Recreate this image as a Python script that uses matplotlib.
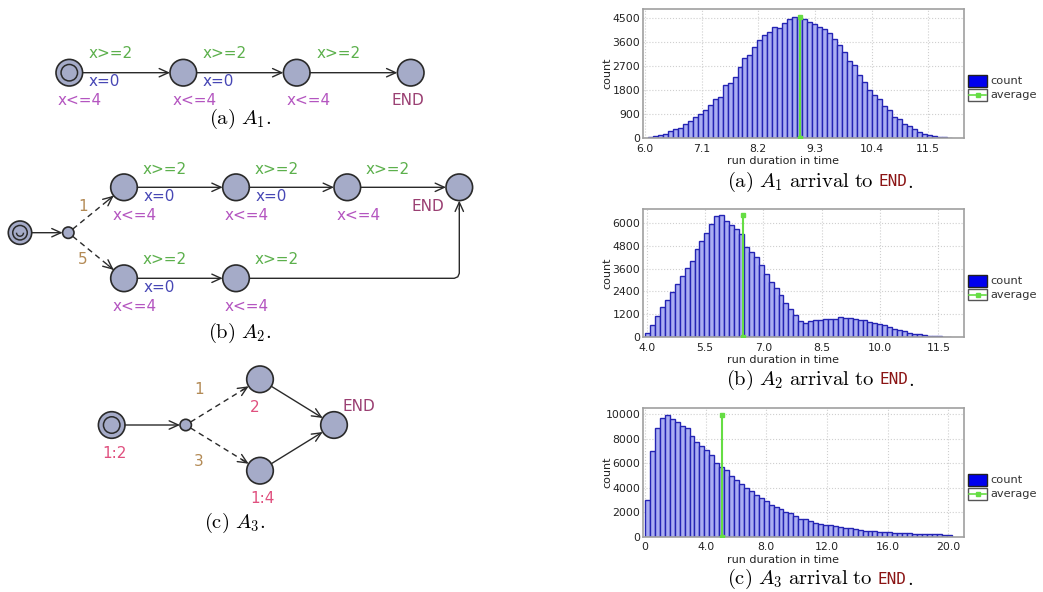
import numpy as np
import matplotlib.pyplot as plt
from matplotlib.patches import Circle, Rectangle, Arc

plt.rcParams['mathtext.fontset'] = 'cm'

# ---- histogram data (counts per bin) ----
a1_start, a1_width = 6.05, 0.097
a1_counts = [30, 60, 100, 160, 260, 340, 380, 540, 640, 790,
             890, 1070, 1240, 1470, 1550, 1990, 2050, 2300, 2680, 3020,
             3120, 3410, 3680, 3880, 4000, 4190, 4150, 4340, 4460, 4560,
             4500, 4460, 4370, 4270, 4160, 4090, 3930, 3710, 3500, 3240,
             2890, 2740, 2360, 2110, 1800, 1610, 1450, 1190, 1040, 790,
             730, 540, 440, 350, 230, 160, 100, 60, 40, 25, 10]
a1_avg = 9.0
a1_xticks = [6.0, 7.1, 8.2, 9.3, 10.4, 11.5]
a1_yticks = [0, 900, 1800, 2700, 3600, 4500]

a2_start, a2_width = 3.96, 0.127
a2_counts = [230, 670, 1120, 1600, 1930, 2370, 2810, 3230, 3610, 4020,
             4610, 5050, 5470, 5930, 6350, 6400, 6100, 5880, 5650, 5400,
             4740, 4470, 4210, 3800, 3300, 2900, 2560, 2190, 1800, 1460,
             1150, 840, 750, 840, 880, 910, 950, 980, 960, 1050,
             1020, 1000, 960, 930, 880, 810, 770, 700, 650, 530,
             440, 390, 320, 250, 190, 160, 120, 90, 70, 50, 20, 10]
a2_avg = 6.47
a2_xticks = [4.0, 5.5, 7.0, 8.5, 10.0, 11.5]
a2_yticks = [0, 1200, 2400, 3600, 4800, 6000]

a3_start, a3_width = 0.0, 0.326
a3_counts = [3020, 7000, 8870, 9670, 9940, 9600, 9340, 9020, 8870, 8200,
             7760, 7420, 7060, 6690, 6040, 5660, 5460, 4930, 4670, 4310,
             3980, 3740, 3410, 3130, 2880, 2580, 2420, 2230, 2030, 1920,
             1700, 1460, 1430, 1320, 1100, 1020, 960, 930, 880, 820,
             710, 690, 600, 550, 490, 470, 440, 410, 380, 360,
             330, 320, 300, 280, 260, 240, 220, 200, 190, 180, 160, 150]
a3_avg = 5.05
a3_xticks = [0, 4.0, 8.0, 12.0, 16.0, 20.0]
a3_xlabels = ['0', '4.0', '8.0', '12.0', '16.0', '20.0']
a3_yticks = [0, 2000, 4000, 6000, 8000, 10000]

BAR_FACE = '#aaaef2'
BAR_EDGE = '#2424b4'
AVG = '#66dd44'
NODE = '#a5abc8'
EDGE = '#2a2a2a'
GREEN = '#5cb04c'
BLUE = '#4747b5'
PURPLE = '#b455c0'
ENDC = '#9a3f72'
BROWN = '#b38a55'
PINK = '#e0507f'

W, H = 1043, 592
fig = plt.figure(figsize=(W / 100, H / 100), dpi=100)
ov = fig.add_axes([0, 0, 1, 1])
ov.set_xlim(0, W)
ov.set_ylim(H, 0)
ov.axis('off')


def px_axes(left, top, right, bottom):
    return fig.add_axes([left / W, 1 - bottom / H, (right - left) / W, (bottom - top) / H])


def histogram(box, start, width, counts, avg, xlim, xticks, xlabels, ylim, yticks):
    ax = px_axes(*box)
    edges = start + width * np.arange(len(counts))
    ax.bar(edges, counts, width=width, align='edge', color=BAR_FACE,
           edgecolor=BAR_EDGE, linewidth=1.0, zorder=2)
    ax.plot([avg, avg], [0, max(counts)], color=AVG, lw=1.5, marker='s', ms=2.5, zorder=3)
    ax.set_xlim(*xlim)
    ax.set_ylim(*ylim)
    ax.set_xticks(xticks)
    ax.set_xticklabels(xlabels)
    ax.set_yticks(yticks)
    ax.tick_params(length=0, labelsize=7.8, labelcolor='#222222', pad=2)
    ax.tick_params(axis='x', pad=4)
    ax.grid(True, color='#cfcfcf', linestyle=':', linewidth=0.8, zorder=0)
    ax.set_axisbelow(True)
    for s in ax.spines.values():
        s.set_color('#a0a0a0')
        s.set_linewidth(1.2)
    h = box[3] - box[1]
    ax.set_xlabel('run duration in time', fontsize=8, color='#222222', va='center')
    ax.xaxis.set_label_coords(0.435, -23 / h)
    ax.set_ylabel('count', fontsize=8, color='#222222', va='center')
    ax.yaxis.set_label_coords(-36 / 321, 0.5)
    # legend
    cy = (box[1] + box[3]) / 2
    x0 = 968
    ov.add_patch(Rectangle((x0, cy + 1.5), 19, 12, facecolor='#0000ee', edgecolor='#222222', lw=1))
    ov.add_patch(Rectangle((x0, cy + 15.5), 19, 11.5, facecolor='white', edgecolor='#555555', lw=1))
    ov.plot([x0 + 1, x0 + 18], [cy + 21.2, cy + 21.2], color=AVG, lw=1.2)
    ov.plot([x0 + 9.5], [cy + 21.2], marker='s', ms=2.5, color=AVG)
    ov.text(x0 + 22.5, cy + 7.5, 'count', fontsize=8.2, va='center', color='#333333')
    ov.text(x0 + 22.5, cy + 21.5, 'average', fontsize=8.2, va='center', color='#333333')
    return ax


histogram((643, 9.3, 964, 138), a1_start, a1_width, a1_counts, a1_avg,
          (5.961, 12.194), a1_xticks, ['%.1f' % t for t in a1_xticks], (0, 4840), a1_yticks)
histogram((643, 209.3, 964, 337.3), a2_start, a2_width, a2_counts, a2_avg,
          (3.905, 12.157), a2_xticks, ['%.1f' % t for t in a2_xticks], (0, 6700), a2_yticks)
histogram((643, 408.3, 964, 536.7), a3_start, a3_width, a3_counts, a3_avg,
          (-0.132, 21.03), a3_xticks, a3_xlabels, (0, 10500), a3_yticks)

# ---- captions ----
renderer = fig.canvas.get_renderer()


def right_caption(cx, y, letter, idx):
    t1 = ov.text(0, y, r'$\mathrm{(%s)}\ A_{%d}\ \mathrm{arrival\ to}$' % (letter, idx),
                 fontsize=14.8, va='center', ha='left')
    t2 = ov.text(0, y, 'END', fontsize=11.5, va='center', ha='left',
                 family='DejaVu Sans Mono', color='#8b1414')
    t3 = ov.text(0, y, r'$\mathrm{.}$', fontsize=14.8, va='center', ha='left')
    w = [t.get_window_extent(renderer).width for t in (t1, t2, t3)]
    gap = 5
    total = w[0] + gap + w[1] + w[2]
    x = cx - total / 2
    t1.set_x(x)
    t2.set_x(x + w[0] + gap)
    t3.set_x(x + w[0] + gap + w[1])


right_caption(820, 181.7, 'a', 1)
right_caption(820, 380, 'b', 2)
right_caption(820, 579, 'c', 3)

ov.text(240, 119.3, r'$\mathrm{(a)}\ A_1\mathrm{.}$', fontsize=14.8, ha='center', va='center')
ov.text(240, 332.7, r'$\mathrm{(b)}\ A_2\mathrm{.}$', fontsize=14.8, ha='center', va='center')
ov.text(235, 523.3, r'$\mathrm{(c)}\ A_3\mathrm{.}$', fontsize=14.8, ha='center', va='center')

# ---- automata ----
R = 13.3
RB = 5.7
ARROW = dict(arrowstyle='->,head_length=0.55,head_width=0.25', color=EDGE, lw=1.0,
             shrinkA=0, shrinkB=0, mutation_scale=12)


def node(p, r=R, initial=False, urgent=False):
    ov.add_patch(Circle(p, r, facecolor=NODE, edgecolor=EDGE, lw=1.2, zorder=3))
    if initial:
        ov.add_patch(Circle(p, r * 0.62, facecolor='none', edgecolor=EDGE, lw=1.1, zorder=4))
    if urgent:
        ov.add_patch(Arc(p, r * 0.6, r * 0.6, theta1=0, theta2=180, edgecolor=EDGE, lw=1.0, zorder=4))


def edge(p, q, rp=R, rq=R, dashed=False):
    p = np.array(p, float)
    q = np.array(q, float)
    u = (q - p) / np.linalg.norm(q - p)
    a = p + u * rp
    b = q - u * rq
    if dashed:
        ov.plot([a[0], b[0]], [a[1], b[1]], color=EDGE, lw=1.0, ls=(0, (4, 3)))
        ov.annotate('', xy=b, xytext=b - u * 8, arrowprops=ARROW)
    else:
        ov.annotate('', xy=b, xytext=a, arrowprops=ARROW)


def label(x, y, s, c):
    ov.text(x, y, s, color=c, fontsize=11, ha='center', va='center')


# (a) A1
a_nodes = [(69.3, 72.7), (183.3, 72.7), (296.7, 72.7), (410.7, 72.7)]
for i, p in enumerate(a_nodes):
    node(p, initial=(i == 0))
for p, q in zip(a_nodes[:-1], a_nodes[1:]):
    edge(p, q)
label(111, 54, 'x>=2', GREEN)
label(225, 54, 'x>=2', GREEN)
label(338.3, 54, 'x>=2', GREEN)
label(104.3, 81.7, 'x=0', BLUE)
label(218.3, 81.7, 'x=0', BLUE)
label(80, 100.7, 'x<=4', PURPLE)
label(194.3, 100.7, 'x<=4', PURPLE)
label(308.3, 100.7, 'x<=4', PURPLE)
label(408.3, 100.7, 'END', ENDC)

# (b) A2
b_init = (20, 232.7)
b_branch = (68.3, 232.7)
b_top = [(124, 187.3), (236, 187.3), (347.3, 187.3), (459.3, 187.3)]
b_low = [(124, 278.3), (236, 278.3)]
node(b_init, r=11.7, initial=True, urgent=True)
node(b_branch, r=RB)
edge(b_init, b_branch, rp=11.7, rq=RB)
edge(b_branch, b_top[0], rp=RB, dashed=True)
edge(b_branch, b_low[0], rp=RB, dashed=True)
for p in b_top + b_low:
    node(p)
for p, q in zip(b_top[:-1], b_top[1:]):
    edge(p, q)
edge(b_low[0], b_low[1])
ex, ey = b_top[-1]
ly = b_low[1][1]
ov.plot([b_low[1][0] + R, ex - 5, ex - 1.5, ex, ex], [ly, ly, ly - 1.5, ly - 5, ey + R + 8],
        color=EDGE, lw=1.0)
ov.annotate('', xy=(ex, ey + R), xytext=(ex, ey + R + 9), arrowprops=ARROW)
label(82.7, 206.7, '1', BROWN)
label(82.7, 259.3, '5', BROWN)
label(165, 169.3, 'x>=2', GREEN)
label(276.7, 169.3, 'x>=2', GREEN)
label(387.7, 169.3, 'x>=2', GREEN)
label(159.3, 196.7, 'x=0', BLUE)
label(271, 196.7, 'x=0', BLUE)
label(135, 215.7, 'x<=4', PURPLE)
label(246.7, 215.7, 'x<=4', PURPLE)
label(358.3, 215.7, 'x<=4', PURPLE)
label(428.3, 206.7, 'END', ENDC)
label(165, 259.3, 'x>=2', GREEN)
label(276.7, 259.3, 'x>=2', GREEN)
label(159.3, 287.3, 'x=0', BLUE)
label(135, 306.7, 'x<=4', PURPLE)
label(246.7, 306.7, 'x<=4', PURPLE)

# (c) A3
c_init = (111.7, 425)
c_branch = (185.7, 425)
c_up = (260, 379.3)
c_low = (260, 470.7)
c_end = (334, 425)
node(c_init, initial=True)
node(c_branch, r=RB)
for p in (c_up, c_low, c_end):
    node(p)
edge(c_init, c_branch, rq=RB)
edge(c_branch, c_up, rp=RB, dashed=True)
edge(c_branch, c_low, rp=RB, dashed=True)
edge(c_up, c_end)
edge(c_low, c_end)
label(115, 453.3, '1:2', PINK)
label(199, 389, '1', BROWN)
label(199, 461.7, '3', BROWN)
label(254.3, 407.3, '2', PINK)
label(262.3, 498.3, '1:4', PINK)
label(359, 406.7, 'END', ENDC)

fig.savefig('out.png', dpi=100)
